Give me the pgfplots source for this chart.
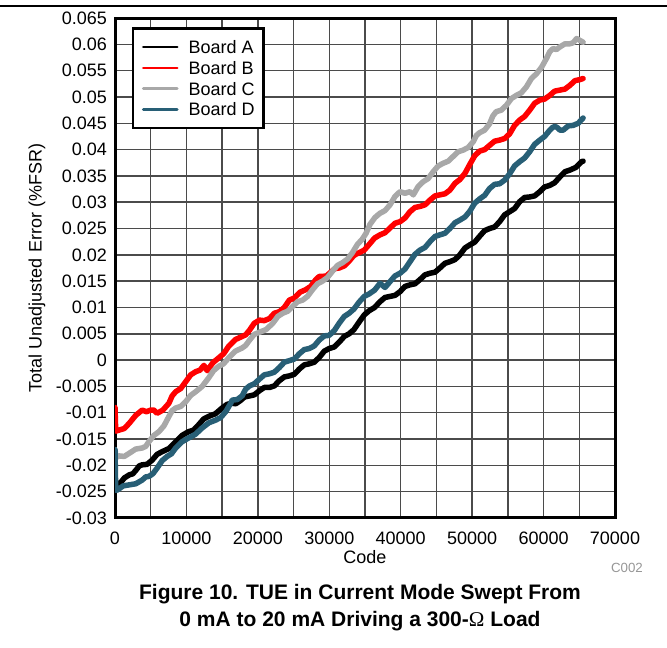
\documentclass[border=0pt]{standalone}
\usepackage{fontspec}
\setmainfont{Liberation Sans}
\newfontfamily\omegafont{Liberation Serif}
\usepackage{pgfplots}
\pgfplotsset{compat=1.18}
\definecolor{boardC}{RGB}{168,168,168}
\definecolor{boardD}{RGB}{40,95,118}
\definecolor{gridc}{RGB}{75,75,75}
\definecolor{codegray}{RGB}{150,150,150}
\begin{document}
\begin{tikzpicture}
\path[use as bounding box] (0pt,0pt) rectangle (667pt,648pt);
\draw[line width=1.3pt] (0pt,642pt) -- (667pt,642pt);
\begin{axis}[
  scale only axis,
  width=500pt, height=500pt,
  at={(115pt,130pt)}, anchor=south west,
  xmin=0, xmax=70000, ymin=-0.03, ymax=0.065,
  xtick={0,5000,10000,15000,20000,25000,30000,35000,40000,45000,50000,55000,60000,65000,70000},
  xticklabels={0,,10000,,20000,,30000,,40000,,50000,,60000,,70000},
  ytick={-0.03,-0.025,-0.02,-0.015,-0.01,-0.005,0,0.005,0.01,0.015,0.02,0.025,0.03,0.035,0.04,0.045,0.05,0.055,0.06,0.065},
  yticklabels={-0.03,-0.025,-0.02,-0.015,-0.01,-0.005,0,0.005,0.01,0.015,0.02,0.025,0.03,0.035,0.04,0.045,0.05,0.055,0.06,0.065},
  scaled x ticks=false, scaled y ticks=false,
  major tick length=0pt,
  grid=major,
  grid style={gridc, line width=1.5pt},
  axis line style={line width=3pt},
  tick label style={font=\fontsize{18}{20}\selectfont},
  xticklabel style={anchor=base, inner sep=0pt, yshift=-27pt},
  yticklabel style={anchor=east, inner sep=0pt, xshift=-8pt},
  label style={font=\fontsize{18}{20}\selectfont},
  xlabel={Code},
  xlabel style={at={(axis description cs:0.5,0)}, anchor=base, yshift=-46pt},
  ylabel={Total Unadjusted Error (\%FSR)},
  ylabel style={at={(axis description cs:0,0.5)}, anchor=base, yshift=73.3pt},
  legend cell align=left,
  legend image code/.code={\draw[#1, line width=2.6pt] (0pt,0pt) -- (34pt,0pt);},
  legend style={at={(axis description cs:0,1)}, anchor=north west, xshift=16.7pt, yshift=-9.3pt,
    draw=black, line width=2.5pt, inner xsep=9pt, inner ysep=12pt, row sep=7.8pt, column sep=10pt,
    font=\fontsize{18}{20}\selectfont,
    nodes={inner sep=0pt, text height=13pt, text depth=0pt}},
  every axis plot/.append style={line width=5.5pt, line join=round, line cap=round},
]
% Board A
\addplot[black] coordinates {
(0,-0.0231) (600,-0.0236) (1300,-0.0224) (2000,-0.0218) (2500,-0.0216) (3000,-0.0208) (3400,-0.0201)
(3800,-0.0199) (4500,-0.0198) (5200,-0.0190) (5900,-0.0179) (6600,-0.0174) (7550,-0.0168)
(8500,-0.0155) (9400,-0.0143) (10300,-0.0136) (11000,-0.0133) (11700,-0.0123) (12400,-0.0112)
(13100,-0.0107) (14050,-0.0102) (15000,-0.0091) (15700,-0.0084) (16400,-0.0082) (16900,-0.0083)
(17450,-0.0078) (18150,-0.0070) (18840,-0.0068) (19500,-0.0066) (20230,-0.0058) (20900,-0.0052)
(21630,-0.0052) (22300,-0.0049) (23020,-0.0039) (23700,-0.0032) (24410,-0.0030) (25100,-0.0027)
(25800,-0.0017) (26500,-0.0009) (27200,-0.0007) (27900,-0.0004) (28590,0.0005) (29300,0.0017)
(29980,0.0022) (30700,0.0025) (31380,0.0034) (32100,0.0045) (32770,0.0050) (33450,0.0058)
(34160,0.0072) (34900,0.0086) (35600,0.0094) (36350,0.0100) (37100,0.0111) (37800,0.0119)
(38500,0.0121) (39200,0.0123) (39900,0.0130) (40600,0.0140) (41300,0.0143) (42000,0.0145)
(42700,0.0153) (43400,0.0162) (44090,0.0165) (44800,0.0167) (45480,0.0175) (46200,0.0184)
(46880,0.0187) (47600,0.0191) (48280,0.0200) (49000,0.0213) (49680,0.0219) (50350,0.0224)
(51030,0.0235) (51750,0.0246) (52440,0.0250) (53150,0.0253) (53840,0.0263) (54550,0.0276)
(55250,0.0282) (55950,0.0288) (56650,0.0301) (57350,0.0309) (58060,0.0310) (58750,0.0312)
(59470,0.0320) (60150,0.0329) (60870,0.0332) (61550,0.0337) (62280,0.0348) (63000,0.0358)
(63680,0.0361) (64500,0.0366) (65320,0.0377) (65535,0.0378)
};
\addlegendentry{Board A}
% Board B
\addplot[red] coordinates {
(0,-0.0090) (100,-0.0135) (560,-0.0133) (1300,-0.0130) (2000,-0.0120) (2900,-0.0105) (3800,-0.0095)
(4400,-0.0098) (5000,-0.0095) (5450,-0.0095) (5900,-0.0101) (6700,-0.0095) (7550,-0.0082)
(8000,-0.0068) (8500,-0.0060) (9200,-0.0054) (9900,-0.0041) (10600,-0.0028) (11300,-0.0022)
(11900,-0.0019) (12450,-0.0010) (12900,-0.0020) (13700,-0.0005) (14500,0.0004) (15200,0.0012)
(15900,0.0026) (16850,0.0039) (17800,0.0045) (18300,0.0048) (18840,0.0057) (19500,0.0070)
(20230,0.0076) (20900,0.0075) (21630,0.0079) (22300,0.0089) (23020,0.0092) (23700,0.0100)
(24410,0.0114) (25100,0.0118) (25900,0.0129) (26730,0.0134) (27400,0.0140) (28120,0.0153)
(28600,0.0159) (29050,0.0159) (29600,0.0160) (30200,0.0167) (30800,0.0174) (31380,0.0175)
(32100,0.0179) (32770,0.0188) (33450,0.0199) (34160,0.0204) (34900,0.0209) (35600,0.0220)
(36350,0.0232) (37100,0.0238) (37800,0.0242) (38500,0.0251) (39200,0.0260) (39900,0.0263)
(40600,0.0270) (41300,0.0282) (42000,0.0290) (42700,0.0292) (43400,0.0295) (44090,0.0304)
(44800,0.0312) (45480,0.0314) (46200,0.0316) (46880,0.0323) (47600,0.0336) (48280,0.0343)
(49000,0.0355) (49680,0.0372) (50350,0.0388) (51030,0.0397) (51750,0.0400) (52440,0.0408)
(53150,0.0416) (53840,0.0418) (54550,0.0421) (55250,0.0430) (55950,0.0446) (56650,0.0456)
(57350,0.0463) (58060,0.0475) (58750,0.0488) (59470,0.0494) (60150,0.0496) (60870,0.0503)
(61550,0.0511) (62280,0.0513) (63000,0.0515) (63680,0.0522) (64400,0.0531) (65090,0.0533)
(65535,0.0535)
};
\addlegendentry{Board B}
% Board C
\addplot[boardC] coordinates {
(0,-0.0170) (150,-0.0185) (560,-0.0182) (1300,-0.0183) (2000,-0.0177) (2900,-0.0169) (3800,-0.0167)
(4300,-0.0164) (4750,-0.0155) (5450,-0.0143) (6150,-0.0136) (6850,-0.0125) (7550,-0.0107)
(8000,-0.0096) (8500,-0.0091) (9200,-0.0088) (9900,-0.0079) (10600,-0.0067) (11300,-0.0060)
(12200,-0.0050) (13100,-0.0034) (13800,-0.0020) (14500,-0.0012) (15200,-0.0007) (15900,0.0004)
(16850,0.0017) (17800,0.0023) (18300,0.0028) (18840,0.0038) (19500,0.0049) (20230,0.0053)
(21150,0.0058) (22090,0.0070) (22800,0.0083) (23480,0.0089) (24200,0.0093) (24870,0.0102)
(25550,0.0111) (26270,0.0114) (26950,0.0121) (27660,0.0134) (28350,0.0145) (29050,0.0150)
(29750,0.0157) (30450,0.0169) (31150,0.0180) (31840,0.0185) (32550,0.0192) (33230,0.0204)
(33950,0.0220) (34630,0.0230) (35150,0.0241) (35700,0.0258) (36400,0.0271) (37100,0.0279)
(37800,0.0284) (38500,0.0295) (39200,0.0311) (39900,0.0320) (40600,0.0317) (41300,0.0320)
(41760,0.0314) (42450,0.0330) (43150,0.0339) (43850,0.0345) (44550,0.0358) (45250,0.0369)
(45950,0.0374) (46650,0.0378) (47350,0.0387) (48050,0.0396) (48750,0.0399) (49450,0.0404)
(50150,0.0415) (50600,0.0427) (51030,0.0432) (51750,0.0437) (52440,0.0449) (52900,0.0464)
(53370,0.0472) (54100,0.0475) (54780,0.0484) (55500,0.0497) (56190,0.0503) (56900,0.0508)
(57590,0.0519) (58300,0.0535) (59000,0.0544) (59700,0.0556) (60400,0.0573) (60870,0.0586)
(61340,0.0592) (61800,0.0590) (62280,0.0595) (63000,0.0601) (63680,0.0601) (64150,0.0603)
(64620,0.0611) (65535,0.0604)
};
\addlegendentry{Board C}
% Board D
\addplot[boardD] coordinates {
(0,-0.0170) (100,-0.0247) (300,-0.0247) (1150,-0.0239) (2000,-0.0237) (2900,-0.0235) (3800,-0.0228)
(4300,-0.0222) (4750,-0.0221) (5300,-0.0216) (5900,-0.0205) (6600,-0.0191) (7300,-0.0183)
(7900,-0.0178) (8500,-0.0167) (9400,-0.0155) (10300,-0.0148) (11250,-0.0141) (12200,-0.0129)
(13150,-0.0119) (14100,-0.0114) (14800,-0.0109) (15500,-0.0098) (16200,-0.0082) (16400,-0.0076)
(17100,-0.0075) (17800,-0.0068) (18300,-0.0055) (18840,-0.0049) (19500,-0.0045) (20230,-0.0036)
(20900,-0.0028) (21630,-0.0026) (22300,-0.0023) (23020,-0.0014) (23700,-0.0004) (24410,-0.0001)
(25100,0.0002) (25800,0.0012) (26500,0.0020) (27200,0.0022) (27900,0.0027) (28590,0.0038)
(29300,0.0046) (29980,0.0047) (30700,0.0056) (31380,0.0070) (32100,0.0083) (32770,0.0089)
(33450,0.0097) (34160,0.0110) (34900,0.0121) (35600,0.0126) (36350,0.0133) (37100,0.0146)
(37800,0.0138) (38500,0.0149) (39200,0.0160) (39900,0.0165) (40600,0.0173) (41300,0.0187)
(42000,0.0201) (42700,0.0209) (43400,0.0214) (44090,0.0225) (44800,0.0235) (45480,0.0238)
(46200,0.0241) (46880,0.0250) (47600,0.0261) (48280,0.0266) (49000,0.0272) (49680,0.0283)
(50350,0.0298) (51030,0.0306) (51750,0.0313) (52440,0.0326) (53150,0.0334) (53840,0.0335)
(54550,0.0342) (55250,0.0354) (55950,0.0369) (56650,0.0377) (57350,0.0384) (58060,0.0396)
(58750,0.0410) (59470,0.0418) (60150,0.0425) (60870,0.0437) (61350,0.0443) (61810,0.0443)
(62300,0.0437) (62750,0.0437) (63450,0.0445) (64150,0.0446) (64850,0.0450) (65535,0.0460)
};
\addlegendentry{Board D}
\end{axis}
\node[anchor=base east, font=\fontsize{13.3}{15}\selectfont, text=codegray, inner sep=0pt] at (643pt,75pt) {C002};
\node[anchor=base, font=\fontsize{21}{26}\selectfont\bfseries, inner sep=0pt] at (360pt,48pt) {Figure 10. TUE in Current Mode Swept From};
\node[anchor=base, font=\fontsize{21}{26}\selectfont\bfseries, inner sep=0pt] at (360pt,21pt) {0 mA to 20 mA Driving a 300-{\omegafont\mdseries Ω} Load};
\end{tikzpicture}
\end{document}
